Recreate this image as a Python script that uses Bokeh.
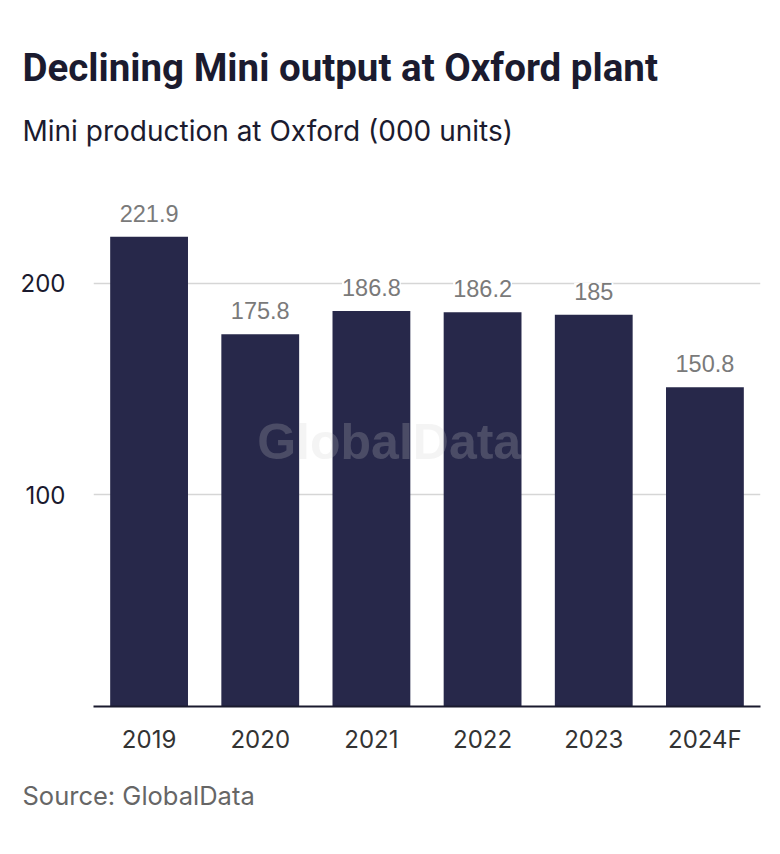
from bokeh.plotting import figure
from bokeh.models import ColumnDataSource, LabelSet, Label, Title, FixedTicker
from bokeh.core.properties import value
from bokeh.embed import file_html
from bokeh.resources import INLINE

years = ["2019", "2020", "2021", "2022", "2023", "2024F"]
values = [221.9, 175.8, 186.8, 186.2, 185, 150.8]
value_labels = ["221.9", "175.8", "186.8", "186.2", "185", "150.8"]
y_ticks = [100, 200]

source = ColumnDataSource(data=dict(year=years, value=values, label=value_labels))

p = figure(x_range=years, y_range=(0, 243.7), width=764, height=836,
           output_backend="svg", toolbar_location=None, title=None,
           min_border_left=93, min_border_right=4, min_border_top=190, min_border_bottom=130)
p.outline_line_color = None
p.background_fill_color = "white"
p.border_fill_color = "white"

p.vbar(x="year", top="value", width=0.7, source=source, color="#27284a", line_color=None)

labels = LabelSet(x="year", y="value", text="label", source=source, y_offset=15,
                  text_align="center", text_baseline="alphabetic",
                  text_font=value("Liberation Sans"), text_font_size=value("23.5px"),
                  text_color="#7a7a7a", background_fill_color="white")
p.add_layout(labels)

wm = Label(x=2.66, y=125, text="GlobalData", text_align="center", text_baseline="alphabetic",
           text_font="Liberation Sans", text_font_style="bold", text_font_size="50px",
           text_color="#cbcbcb", text_alpha=0.22, level="overlay")
p.add_layout(wm)

# axes
p.xaxis.axis_line_color = "#1a1a2e"
p.xaxis.axis_line_width = 2
p.xaxis.major_tick_line_color = None
p.xaxis.minor_tick_line_color = None
p.xaxis.major_tick_out = 0
p.xaxis.major_tick_in = 0
p.xaxis.major_label_text_font = "Inter"
p.xaxis.major_label_text_font_size = "24px"
p.xaxis.major_label_text_color = "#333333"
p.xaxis.major_label_standoff = 18

p.yaxis.ticker = FixedTicker(ticks=y_ticks)
p.yaxis.axis_line_color = None
p.yaxis.major_tick_line_color = None
p.yaxis.minor_tick_line_color = None
p.yaxis.major_tick_out = 0
p.yaxis.major_tick_in = 0
p.yaxis.major_label_text_font = "Inter"
p.yaxis.major_label_text_font_size = "24px"
p.yaxis.major_label_text_color = "#1a1a2e"
p.yaxis.major_label_standoff = 28

p.xgrid.grid_line_color = None
p.ygrid.ticker = FixedTicker(ticks=y_ticks)
p.ygrid.grid_line_color = "#d6d6d6"
p.ygrid.grid_line_width = 1.5

sub = Title(text="Mini production at Oxford (000 units)", align="left", offset=-71,
            text_font="Inter", text_font_size="28px", text_font_style="normal",
            text_color="#1b1b2f", standoff=85)
p.add_layout(sub, "above")
ttl = Title(text="Declining Mini output at Oxford plant", align="left", offset=-71,
            text_font="Roboto", text_font_size="38.5px", text_font_style="bold",
            text_color="#1b1b2f", standoff=-40)
p.add_layout(ttl, "above")

src = Title(text="Source: GlobalData", align="left", offset=-71,
            text_font="Inter", text_font_size="25.5px", text_font_style="normal",
            text_color="#666666", standoff=42)
p.add_layout(src, "below")

open("out.html", "w").write(file_html(p, INLINE))
